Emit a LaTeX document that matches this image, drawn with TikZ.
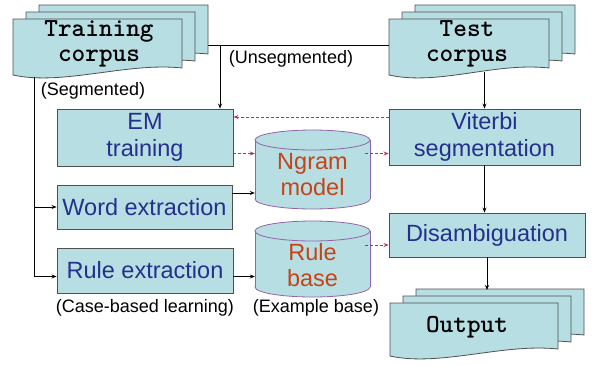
\documentclass[tikz,border=0pt]{standalone}
\usepackage{fontspec}
\setmainfont{Liberation Sans}
\usepackage{xcolor}
\usetikzlibrary{arrows.meta, positioning, calc}

\definecolor{boxfill}{RGB}{183,222,227}
\definecolor{boxtext}{RGB}{38,48,140}
\definecolor{drumtext}{RGB}{196,68,22}
\definecolor{drumedge}{RGB}{145,100,170}
\definecolor{dashcol}{RGB}{165,50,115}
\definecolor{edgecol}{RGB}{80,80,80}

\tikzset{
  procbox/.style={draw=edgecol, fill=boxfill, line width=0.9pt, inner sep=0pt,
    align=center, text=boxtext, font=\fontsize{23.5}{27}\selectfont},
  drumtxt/.style={inner sep=0pt, align=center, text=drumtext,
    font=\fontsize{23.5}{26}\selectfont},
  doctxt/.style={inner sep=0pt, align=center,
    font=\ttfamily\bfseries\fontsize{26}{25}\selectfont},
  note/.style={inner sep=0pt, font=\fontsize{18}{20}\selectfont},
  sheet/.style={draw=edgecol, fill=boxfill, line width=0.8pt},
  drum/.style={draw=drumedge, fill=boxfill, line width=0.8pt},
  arr/.style={-{Stealth[length=5pt,width=4pt]}, line width=0.7pt},
  dasharr/.style={-{Stealth[length=5pt,width=4pt]}, dashed, dash pattern=on 3pt off 2pt,
    draw=dashcol, line width=0.8pt}
}

% one page of a document stack: left, top, right, bottom
\newcommand{\docpage}[4]{%
  \filldraw[sheet] (#1,#2) -- (#3,#2) -- (#3,#4-7)
    .. controls ($(#3,#4)+(-55,-13)$) and ($(#1,#4)+(50,11)$) .. (#1,#4) -- cycle;}
% three pages, each shifted up and right
\newcommand{\docstack}[4]{%
  \docpage{#1+26}{#2-14}{#3+26}{#4-14}
  \docpage{#1+13}{#2-7}{#3+13}{#4-7}
  \docpage{#1}{#2}{#3}{#4}}
% upright drum: center x, top y, bottom y, half width
\newcommand{\drumshape}[4]{%
  \filldraw[drum] (#1,#3) ellipse [x radius=#4pt, y radius=10pt];
  \fill[boxfill] (#1-#4,#2) rectangle (#1+#4,#3);
  \draw[drum] (#1-#4,#2) -- (#1-#4,#3) (#1+#4,#2) -- (#1+#4,#3);
  \filldraw[drum] (#1,#2) ellipse [x radius=#4pt, y radius=10pt];}

\begin{document}
\begin{tikzpicture}[x=1pt, y=-1pt]
  \useasboundingbox (0,0) rectangle (592,365);

  % document stacks
  \docstack{13}{19}{182}{75}
  \node[doctxt] (train) at (99,44) {Training\\corpus};
  \docstack{389}{19}{549}{75}
  \node[doctxt] (test) at (467,44) {Test\\corpus};
  \docstack{390}{303}{558}{356}
  \node[doctxt] (out) at (467,327) {Output};

  \coordinate (trainR) at (208,45);
  \coordinate (testL) at (389,45);
  \coordinate (tap) at (220,45);
  \coordinate (trainB) at (34,77);
  \coordinate (testB) at (485,72);
  \coordinate (outT) at (485,290);

  % processing boxes
  \node[procbox, minimum width=176, minimum height=57] (em) at (145,137.5) {EM\\training};
  \node[procbox, minimum width=175, minimum height=44] (word) at (144.5,207) {Word extraction};
  \node[procbox, minimum width=176, minimum height=45] (rule) at (145,270.5) {Rule extraction};
  \node[procbox, minimum width=191, minimum height=56] (vit) at (484.5,137) {Viterbi\\segmentation};
  \node[procbox, minimum width=196, minimum height=44] (dis) at (487,235) {Disambiguation};

  % drums
  \drumshape{312.5}{140}{199}{57.5}
  \node[drumtxt, minimum width=115, minimum height=60] (ngram) at (312.5,175) {Ngram\\model};
  \drumshape{312.5}{231}{287}{57.5}
  \node[drumtxt, minimum width=115, minimum height=60] (rbase) at (312.5,265) {Rule\\base};

  % notes
  \node[note] (seg) at (93,91) {(Segmented)};
  \node[note] (unseg) at (291,59) {(Unsegmented)};
  \node[note] (cbl) at (145,308) {(Case-based learning)};
  \node[note] (exb) at (316,308) {(Example base)};

  % solid connectors
  \draw[line width=0.7pt] (trainR) -- (testL);
  \draw[arr] (tap) -- (em.north -| tap);
  \draw[arr] (vit.north |- testB) -- (vit.north);
  \draw[arr] (vit.south) -- (vit.south |- dis.north);
  \draw[arr] (dis.south) -- (dis.south |- outT);
  \draw[arr] (trainB) |- ([yshift=-6pt]rule.west);
  \draw[arr] (trainB |- word.west) -- (word.west);
  \draw[arr] ([yshift=14pt]word.east) -- ([yshift=14pt]word.east -| ngram.west);
  \draw[arr] ([yshift=-6pt]rule.east) -- ([yshift=-6pt]rule.east -| rbase.west);

  % dashed connectors
  \draw[dasharr] ([yshift=20pt]vit.west) -- ([yshift=20pt]vit.west -| em.east);
  \draw[dasharr] ([yshift=-16pt]em.east) -- ([yshift=-16pt]em.east -| ngram.west);
  \draw[dasharr] ([yshift=-16pt,xshift=-5pt]em.east -| ngram.east) -- ([yshift=-16pt]em.east -| vit.west);
  \draw[dasharr] ([yshift=-10pt,xshift=-5pt]dis.west -| rbase.east) -- ([yshift=-10pt]dis.west);
\end{tikzpicture}
\end{document}
